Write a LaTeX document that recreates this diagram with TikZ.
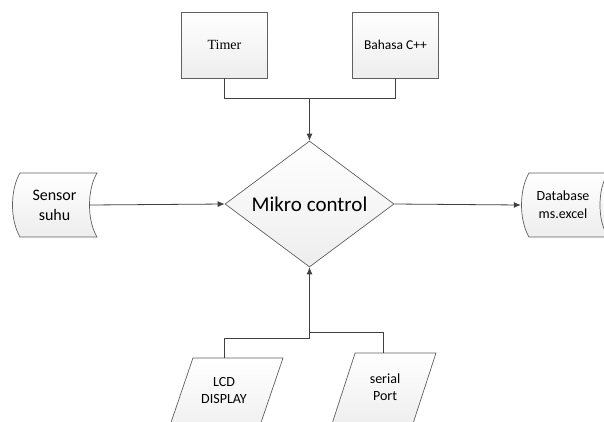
\documentclass[tikz,border=0pt]{standalone}
\usepackage{fontspec}
\setmainfont{Carlito}
\newfontfamily\timesfont{Liberation Serif}
\usetikzlibrary{arrows.meta,shapes.geometric}

\begin{document}
\begin{tikzpicture}[x=1pt,y=-1pt,>={Latex[length=7pt,width=6pt]},
 shp/.style={draw=gray!75!black,line width=0.7pt,top color=white,bottom color=gray!14},
 box/.style={shp,rectangle,align=center,inner sep=0pt,minimum width=86pt,minimum height=66pt},
 io/.style={shp,trapezium,trapezium left angle=70,trapezium right angle=110,
 trapezium stretches=true,inner sep=0pt},
 txt/.style={rectangle,inner sep=0pt,align=center},
 line/.style={draw=black!75,line width=0.8pt}]
\useasboundingbox (0,0) rectangle (604,421);
\clip (0,0) rectangle (604,421);
% top inputs
\node[box,font=\timesfont\fontsize{14}{17}\selectfont] (timer) at (224.5,45) {Timer};
\node[box,font=\fontsize{13.5}{16}\selectfont] (cpp) at (395.5,45) {Bahasa C++};
% main decision
\node[shp,diamond,aspect=1.34,inner sep=0pt,minimum width=169pt,minimum height=126pt,
 font=\fontsize{21}{25}\selectfont] (mikro) at (309.5,204) {Mikro control};
% stored data shapes
\path[shp] (20,173) -- (97,173) .. controls (87,190) and (87,220) .. (97,237)
 -- (20,237) .. controls (10,220) and (10,190) .. (20,173) -- cycle;
\node[txt,minimum width=85pt,minimum height=64pt,font=\fontsize{16}{20}\selectfont] (sensor) at (54.5,205) {Sensor\\suhu};
\path[shp] (529,173) -- (612,173) -- (612,237) -- (529,237)
 .. controls (519,220) and (519,190) .. (529,173) -- cycle;
\path[shp] (612,205) ellipse [x radius=12,y radius=32];
\node[txt,minimum width=91pt,minimum height=64pt] (db) at (566.5,205) {};
\node[txt,font=\fontsize{14}{18}\selectfont] (dbtext) at (563,205) {Database\\ms.excel};
% bottom outputs
\node[io,minimum width=118pt,minimum height=82pt] (lcd) at (224,399) {\phantom{X}};
\node[txt,font=\fontsize{14}{17}\selectfont] (lcdtext) at (224,390) {LCD\\DISPLAY};
\node[io,minimum width=106pt,minimum height=77pt] (port) at (383,391.5) {\phantom{X}};
\node[txt,font=\fontsize{14}{17}\selectfont] (porttext) at (385,387) {serial\\Port};
% connectors
\coordinate (topjoin) at (309.5,98);
\coordinate (botjoin) at (309.5,338);
\draw[line] (timer.south) |- (topjoin);
\draw[line] (cpp.south) |- (topjoin);
\draw[line,->] (topjoin) -- (mikro.north);
\draw[line,->] ([xshift=-8pt]sensor.east) -- (mikro.west);
\draw[line,->] (mikro.east) -- (db.west);
\draw[line] (lcd.center |- lcd.north) |- (botjoin);
\draw[line] (port.center |- port.north) |- (309.5,332);
\draw[line,->] (botjoin) -- (mikro.south);
\end{tikzpicture}
\end{document}
